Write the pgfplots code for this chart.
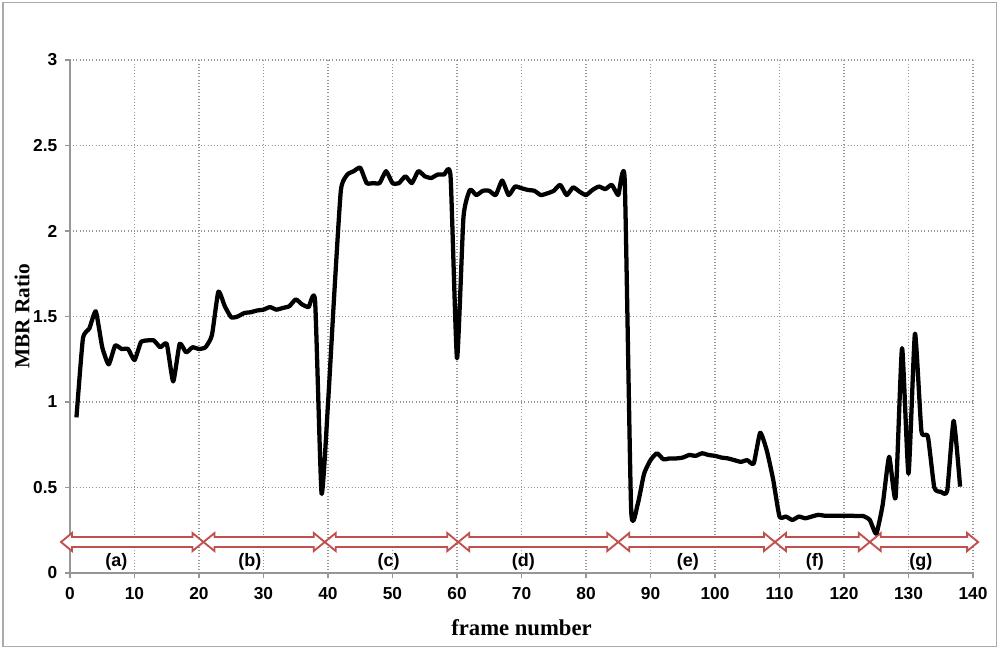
\documentclass[border=0pt]{standalone}
\usepackage{pgfplots}
\pgfplotsset{compat=1.18}
\usepackage{pgfplotstable}
\usepackage{fontspec}
\setmainfont{Liberation Sans}
\newfontfamily\serifbf{Liberation Serif}
\usetikzlibrary{calc}
\definecolor{arrowred}{RGB}{192,80,77}
\definecolor{gridgray}{RGB}{150,150,150}
\definecolor{framegray}{RGB}{170,170,170}

\pgfplotstableread{
x y
1 0.91
2 1.37
3 1.43
4 1.53
5 1.32
6 1.22
7 1.33
8 1.31
9 1.31
10 1.245
11 1.35
12 1.36
13 1.36
14 1.32
15 1.34
16 1.12
17 1.34
18 1.29
19 1.32
20 1.31
21 1.32
22 1.39
23 1.645
24 1.56
25 1.495
26 1.50
27 1.52
28 1.525
29 1.535
30 1.54
31 1.555
32 1.54
33 1.55
34 1.56
35 1.60
36 1.57
37 1.555
38 1.59
39 0.466
40 0.99
41 1.65
42 2.24
43 2.33
44 2.35
45 2.37
46 2.28
47 2.28
48 2.28
49 2.35
50 2.28
51 2.28
52 2.32
53 2.28
54 2.35
55 2.32
56 2.31
57 2.33
58 2.33
59 2.32
60 1.255
61 2.08
62 2.24
63 2.21
64 2.235
65 2.235
66 2.21
67 2.295
68 2.21
69 2.26
70 2.25
71 2.24
72 2.235
73 2.21
74 2.22
75 2.235
76 2.27
77 2.21
78 2.255
79 2.23
80 2.21
81 2.24
82 2.26
83 2.245
84 2.27
85 2.21
86 2.30
87 0.37
88 0.40
89 0.58
90 0.66
91 0.70
92 0.665
93 0.67
94 0.67
95 0.675
96 0.69
97 0.685
98 0.70
99 0.69
100 0.685
101 0.675
102 0.67
103 0.66
104 0.65
105 0.66
106 0.64
107 0.82
108 0.72
109 0.55
110 0.33
111 0.33
112 0.31
113 0.33
114 0.32
115 0.33
116 0.34
117 0.335
118 0.335
119 0.335
120 0.335
121 0.335
122 0.333
123 0.333
124 0.31
125 0.23
126 0.40
127 0.68
128 0.44
129 1.315
130 0.58
131 1.40
132 0.83
133 0.80
134 0.50
135 0.475
136 0.48
137 0.89
138 0.505
}\mbrdata

\newcommand{\dblarrow}[2]{%
\draw[arrowred, line width=1.4pt, fill=white, line join=miter]
 (axis cs:#1,0.181) -- ++(8.25pt,6.75pt) -- ++(0,-3pt)
 -- ($(axis cs:#2,0.181)+(-8.25pt,3.75pt)$) -- ++(0,3pt)
 -- (axis cs:#2,0.181) -- ++(-8.25pt,-6.75pt) -- ++(0,3pt)
 -- ($(axis cs:#1,0.181)+(8.25pt,-3.75pt)$) -- ++(0,-3pt) -- cycle;}

\begin{document}
\begin{tikzpicture}
\useasboundingbox (0,0) rectangle (750pt,486pt);
\draw[framegray, line width=1pt] (2.25pt,1.25pt) rectangle (747.5pt,484.3pt);
\begin{axis}[
  at={(52.5pt,56.25pt)}, anchor=south west,
  scale only axis, width=677.25pt, height=384.75pt,
  xmin=0, xmax=140, ymin=0, ymax=3,
  xtick={0,10,...,140}, ytick={0,0.5,...,3},
  yticklabels={0,0.5,1,1.5,2,2.5,3},
  axis x line*=bottom, axis y line*=left,
  axis line style={gridgray, line width=0.8pt},
  tick style={gridgray, line width=0.8pt},
  tick align=outside, major tick length=4pt,
  grid=major, grid style={gridgray, dotted, line width=0.8pt},
  /pgf/number format/assume math mode=true,
  ticklabel style={font=\fontsize{13}{15}\selectfont\bfseries},
  xticklabel style={yshift=-3pt},
  yticklabel style={xshift=-2pt},
  xlabel={frame number}, ylabel={MBR Ratio},
  xlabel style={font=\serifbf\fontsize{17}{20}\selectfont\bfseries, at={(axis description cs:0.5,-0.1072)}, anchor=center},
  ylabel style={font=\serifbf\fontsize{16}{19}\selectfont\bfseries, at={(axis description cs:-0.0532,0.5)}, anchor=center},
  clip=false,
]
\dblarrow{-1.4}{20.7}
\dblarrow{20.7}{39.5}
\dblarrow{39.5}{60.2}
\dblarrow{60.2}{85.0}
\dblarrow{85.0}{109.3}
\dblarrow{109.3}{124.0}
\dblarrow{124.0}{140.8}
\addplot[black, line width=3.2pt, smooth, tension=0.3, line join=round] table[x=x,y=y] {\mbrdata};
\node[font=\fontsize{13.5}{15}\selectfont\bfseries] at (axis cs:7.2,0.064) {(a)};
\node[font=\fontsize{13.5}{15}\selectfont\bfseries] at (axis cs:27.9,0.064) {(b)};
\node[font=\fontsize{13.5}{15}\selectfont\bfseries] at (axis cs:49.4,0.064) {(c)};
\node[font=\fontsize{13.5}{15}\selectfont\bfseries] at (axis cs:70.3,0.064) {(d)};
\node[font=\fontsize{13.5}{15}\selectfont\bfseries] at (axis cs:95.8,0.064) {(e)};
\node[font=\fontsize{13.5}{15}\selectfont\bfseries] at (axis cs:115.5,0.064) {(f)};
\node[font=\fontsize{13.5}{15}\selectfont\bfseries] at (axis cs:131.9,0.064) {(g)};
\end{axis}
\end{tikzpicture}
\end{document}
